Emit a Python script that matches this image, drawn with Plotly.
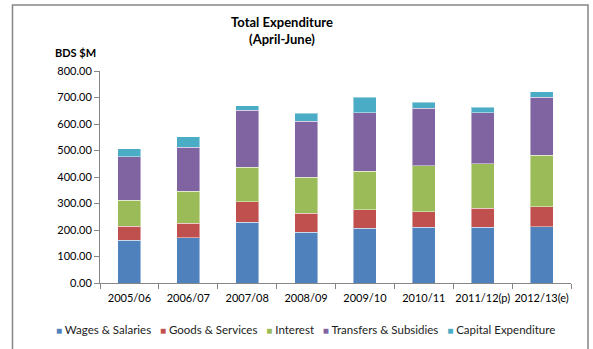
import plotly.graph_objects as go

categories = ["2005/06", "2006/07", "2007/08", "2008/09", "2009/10", "2010/11", "2011/12(p)", "2012/13(e)"]
wages = [162, 171, 230, 192, 207, 210, 210, 212]
goods = [53, 55, 76, 72, 70, 58, 73, 76]
interest = [98, 121, 131, 135, 144, 174, 167, 195]
transfers = [164, 165, 215, 212, 222, 218, 193, 218]
capex = [29, 40, 17, 30, 58, 23, 20, 20]

series = [
    ("Wages & Salaries", wages, "#4F81BD"),
    ("Goods & Services", goods, "#C0504D"),
    ("Interest", interest, "#9BBB59"),
    ("Transfers & Subsidies", transfers, "#8064A2"),
    ("Capital Expenditure", capex, "#4BACC6"),
]

FONT = "Lato"
fig = go.Figure()
for name, vals, color in series:
    fig.add_trace(go.Bar(
        x=categories, y=vals, name=name,
        marker=dict(color=color, line=dict(color="rgba(255,255,255,0.45)", width=1)),
    ))

fig.update_layout(
    barmode="stack",
    bargap=0.61,
    width=593, height=349,
    margin=dict(l=100, r=22, t=71, b=66, autoexpand=False),
    paper_bgcolor="white", plot_bgcolor="white",
    font=dict(family=FONT, size=11, color="#000000"),
    title=dict(
        text="<b>Total Expenditure<br>(April-June)</b>",
        x=282/593, xanchor="center", xref="container",
        y=1 - 27/349, yanchor="top", yref="container",
        font=dict(family=FONT, size=13, color="#000000"),
        automargin=False,
    ),
    showlegend=False,
)
fig.update_yaxes(
    range=[0, 800], dtick=100, tickformat=".2f",
    showgrid=False, ticks="outside", ticklen=5, tickcolor="#868686",
    showline=True, linecolor="#868686", linewidth=1, zeroline=False,
    tickfont=dict(family=FONT, size=11, color="#000000"), automargin=False,
)
fig.update_xaxes(
    tickson="boundaries", ticks="outside", ticklen=5, tickcolor="#868686",
    showline=True, linecolor="#868686", linewidth=1, showgrid=False, tickangle=0,
    ticklabelstandoff=5,
    tickfont=dict(family=FONT, size=11, color="#000000"), automargin=False,
)
fig.add_annotation(
    text="<b>BDS $M</b>", xref="paper", yref="paper",
    x=-25/471, y=1 + 19/212, xanchor="center", yanchor="middle",
    showarrow=False, font=dict(family=FONT, size=11, color="#000000"),
)
legend_text = "&nbsp;&nbsp;&nbsp;".join(
    f"<span style='color:{c}; font-size:10px'>■</span> {n}" for n, _, c in series
)
fig.add_annotation(
    text=legend_text, xref="paper", yref="paper",
    x=(305 - 100) / 471, y=-(329 - 283) / 212, xanchor="center", yanchor="middle",
    showarrow=False, font=dict(family=FONT, size=11.5, color="#222222"),
)
fig.add_shape(
    type="rect", xref="paper", yref="paper",
    x0=-87.5/471, x1=(588 - 100) / 471,
    y0=-(352 - 283) / 212, y1=(283 - 5) / 212,
    line=dict(color="#868686", width=1.5), fillcolor="rgba(0,0,0,0)", layer="above",
)
fig.write_html("out.html")
